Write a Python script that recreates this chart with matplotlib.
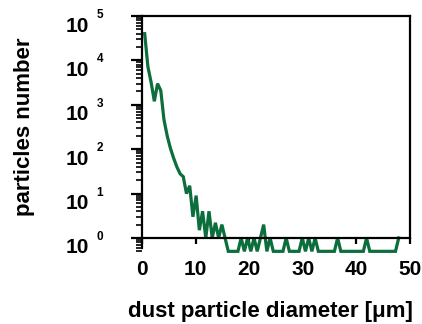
import numpy as np
import matplotlib
matplotlib.use('Agg')
import matplotlib.pyplot as plt
from matplotlib.transforms import offset_copy, blended_transform_factory

# bins of 0.6 um starting at 0.5 um
bin_first = 0.5
bin_step = 0.6
n_bins = 80

# particle counts per bin (0 means no particle)
counts = [40000, 7200, 3200, 1200, 3000, 2100, 460, 200, 105, 63,
          40, 28, 24, 10, 15, 3, 9, 1.5, 4, 1,
          4, 1, 2.2, 1, 2, 1, 0, 0, 0, 0,
          1, 0, 1, 0, 1, 0, 1, 2, 0, 1,
          0, 0, 0, 0, 1, 0, 0, 0, 0, 1,
          0, 1, 0, 1, 0, 0, 0, 0, 0, 0,
          1, 0, 0, 0, 0, 0, 0, 0, 0, 1,
          0, 0, 0, 0, 0, 0, 0, 0, 0, 1]

x_ticks = [0, 10, 20, 30, 40, 50]
decades = [0, 1, 2, 3, 4, 5]
zero_level = 0.5  # where empty bins are drawn on the log axis

diam = bin_first + bin_step * np.arange(n_bins)
vals = np.array(counts, dtype=float)
vals[vals == 0] = zero_level

plt.rcParams['font.family'] = 'Liberation Sans'
plt.rcParams['font.weight'] = 'bold'

fig = plt.figure(figsize=(4.22, 3.24), dpi=100)
ax = fig.add_axes([0.3365, 0.218, 0.635, 0.7326])

ax.plot(diam, vals, color='#0b6e3c', lw=2.3, solid_joinstyle='miter')

ax.set_yscale('log')
ax.set_ylim(0.45, 1e5)
ax.set_xlim(0, 50)

for s in ax.spines.values():
    s.set_linewidth(1.6)
ax.spines['bottom'].set_position(('data', 1))
ax.spines['left'].set_bounds(0.6, 1e5)
ax.spines['right'].set_bounds(1, 1e5)

ax.set_xticks(x_ticks)
ax.set_xticklabels([str(t) for t in x_ticks], fontsize=15, fontweight='bold')
ax.tick_params(axis='x', direction='out', length=4, width=1.6, pad=12)

ax.set_yticks([10.0 ** d for d in decades])
ax.set_yticklabels([])
ax.tick_params(axis='y', which='major', direction='out', length=8, width=1.6)
ax.tick_params(axis='y', which='minor', direction='out', length=4.5, width=1.2)

trans = blended_transform_factory(ax.transAxes, ax.transData)
base_tr = offset_copy(trans, fig=fig, x=0, y=-10, units='dots')
exp_tr = offset_copy(trans, fig=fig, x=0, y=1, units='dots')
for d in decades:
    ax.text(-0.198, 10.0 ** d, '10', transform=base_tr, ha='right', va='center',
            fontsize=15, fontweight='bold')
    ax.text(-0.17, 10.0 ** d, str(d), transform=exp_tr, ha='left', va='center',
            fontsize=8.5, fontweight='bold')

fig.text(25 / 422, 1 - 127 / 324, 'particles number', rotation=90,
         ha='center', va='center', fontsize=16, fontweight='bold')
fig.text(270 / 422, 1 - 311 / 324, 'dust particle diameter [\u03bcm]',
         ha='center', va='center', fontsize=16, fontweight='bold')

fig.savefig('out.png', dpi=100)
